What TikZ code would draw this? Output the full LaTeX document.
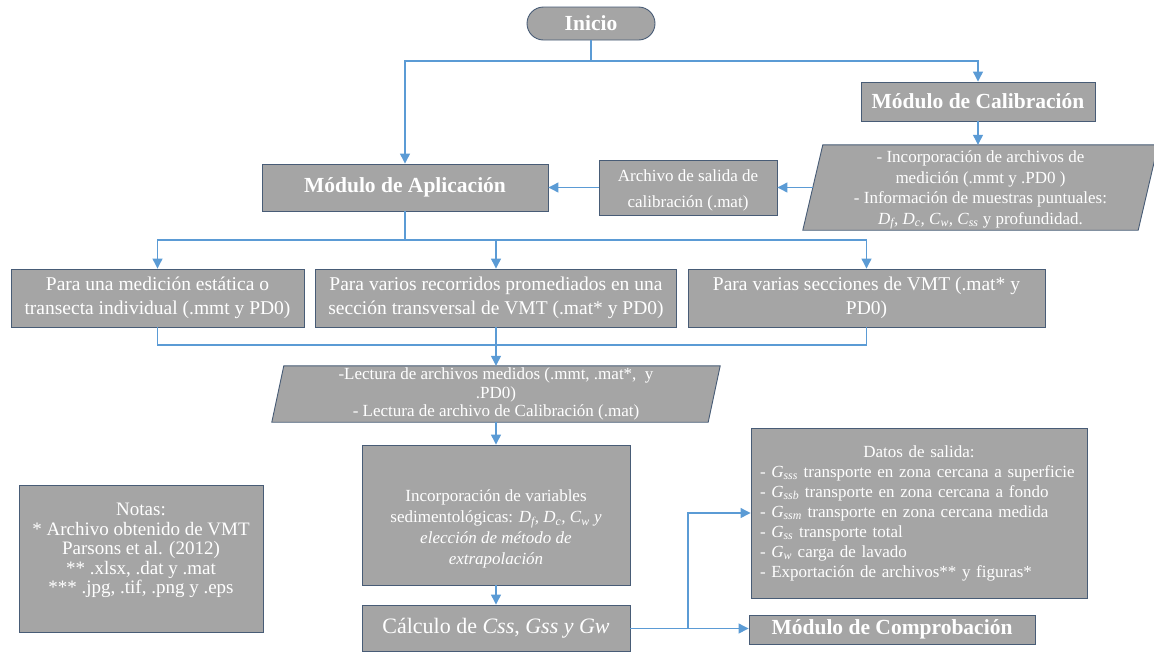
\documentclass[tikz,border=0pt]{standalone}
\usepackage{fontspec}
\setmainfont{Liberation Serif}
\usetikzlibrary{arrows.meta,calc,backgrounds}
\definecolor{boxgray}{RGB}{165,165,165}
\definecolor{edgecol}{RGB}{72,92,118}
\definecolor{flow}{RGB}{91,155,213}
\begin{document}
\begin{tikzpicture}[x=1pt,y=-1pt,
  box/.style={draw=edgecol, line width=0.9pt, fill=boxgray, text=white, align=center, inner sep=0pt},
  plain/.style={text=white, align=center, inner sep=0pt},
  partext/.style={draw=edgecol, line width=0.9pt, fill=boxgray},
  flowline/.style={draw=flow, line width=1.2pt},
  arr/.style={flowline, -{Triangle[length=10pt,width=10pt]}},
  title/.style={font=\bfseries\fontsize{21.5}{24}\selectfont},
]
\useasboundingbox (0,0) rectangle (1154,654);

% nodes
\node[box, title, rounded corners=16.5pt, minimum width=128pt, minimum height=33pt] (inicio) at (591,23.5) {Inicio};
\node[box, title, minimum width=234pt, minimum height=39pt] (cal) at (978,101.5) {Módulo de Calibración};
\node[plain, minimum width=355pt, minimum height=85pt, font=\fontsize{17}{20.5}\selectfont] (calpar) at (980.5,187.5)
  {\rule{0pt}{17pt}- Incorporación de archivos de\\ medición (.mmt y .PD0 )\\ - Información de muestras puntuales:\\
   \textit{D\textsubscript{f}, D\textsubscript{c}, C\textsubscript{w}, C\textsubscript{ss}} y profundidad.};
\node[box, minimum width=178pt, minimum height=55pt, font=\fontsize{17}{26}\selectfont] (archivo) at (688,187.5)
  {\rule{0pt}{18pt}Archivo de salida de\\ calibración (.mat)};
\node[box, title, minimum width=286pt, minimum height=47pt] (aplic) at (405,187.5) {Módulo de Aplicación};

\node[box, minimum width=293pt, minimum height=58pt, font=\fontsize{19.5}{24}\selectfont] (b1) at (157.5,298)
  {Para una medición estática o\\ transecta individual (.mmt y PD0)};
\node[box, minimum width=361pt, minimum height=58pt, font=\fontsize{19.5}{24}\selectfont] (b2) at (496,298)
  {Para varios recorridos promediados en una\\ sección transversal de VMT (.mat* y PD0)};
\node[box, minimum width=357pt, minimum height=58pt, font=\fontsize{19.5}{24}\selectfont] (b3) at (866.5,298)
  {Para varias secciones de VMT (.mat* y\\ PD0)};

\node[plain, minimum width=448pt, minimum height=56pt, font=\fontsize{17}{18.5}\selectfont] (lect) at (496,394)
  {-Lectura de archivos medidos (.mmt, .mat*,\ \ y\\ .PD0)\\ - Lectura de archivo de Calibración (.mat)};

\node[box, minimum width=268pt, minimum height=140pt, font=\fontsize{17}{21}\selectfont] (incorp) at (496,515)
  {\rule{0pt}{40pt}Incorporación de variables\\ sedimentológicas: \textit{D\textsubscript{f}, D\textsubscript{c}, C\textsubscript{w} y}\\
   \textit{elección de método de}\\ \textit{extrapolación}};
\node[box, minimum width=268pt, minimum height=46pt, font=\fontsize{22}{24}\selectfont] (calc) at (496,628)
  {Cálculo de \textit{Css}, \textit{Gss y Gw}};

\node[box, minimum width=336pt, minimum height=170pt, text width=318pt, align=left, font=\fontsize{17}{20}\selectfont] (datos) at (919,513)
  {\makebox[318pt][c]{Datos de salida:}\\
   - \textit{G\textsubscript{sss}} transporte en zona cercana a superficie\\
   - \textit{G\textsubscript{ssb}} transporte en zona cercana a fondo\\
   - \textit{G\textsubscript{ssm}} transporte en zona cercana medida\\
   - \textit{G\textsubscript{ss}} transporte total\\
   - \textit{G\textsubscript{w}}\ carga de lavado\\
   - Exportación de archivos** y figuras*};
\node[box, title, minimum width=286pt, minimum height=29pt] (compr) at (892,629.5) {Módulo de Comprobación};

\node[box, minimum width=244pt, minimum height=147pt, font=\fontsize{19}{19.5}\selectfont] (notas) at (141,558.5)
  {Notas:\\ * Archivo obtenido de VMT\\ Parsons et al. (2012)\\ ** .xlsx, .dat y .mat\\ *** .jpg, .tif, .png y .eps\rule[-20pt]{0pt}{20pt}};

% parallelogram bodies
\begin{pgfonlayer}{background}
\path[partext] ([xshift=20pt]calpar.north west) -- (calpar.north east) -- ([xshift=-20pt]calpar.south east) -- (calpar.south west) -- cycle;
\path[partext] ([xshift=12pt]lect.north west) -- (lect.north east) -- ([xshift=-12pt]lect.south east) -- (lect.south west) -- cycle;
\end{pgfonlayer}

% junctions
\coordinate (j1) at (591,61);
\coordinate (j2) at (405,240);
\coordinate (j3) at (496,345);
\coordinate (j4) at (688,628.5);

% connectors
\draw[flowline] (inicio.south) -- (j1);
\draw[arr] (j1) -| (aplic.north);
\draw[arr] (j1) -| (cal.north);
\draw[arr] (cal.south) -- (cal.south |- calpar.north);
\draw[arr] ([xshift=10pt]calpar.west) -- (archivo.east);
\draw[arr] (archivo.west) -- (aplic.east);
\draw[flowline] (aplic.south) -- (j2);
\draw[arr] (j2) -| (b1.north);
\draw[arr] (j2) -| (b2.north);
\draw[arr] (j2) -| (b3.north);
\draw[flowline] (b1.south) |- (j3);
\draw[flowline] (b3.south) |- (j3);
\draw[arr] (b2.south) -- (lect.north);
\draw[arr] (lect.south) -- (incorp.north);
\draw[arr] (incorp.south) -- (calc.north);
\draw[flowline] (calc.east |- j4) -- (j4);
\draw[arr] (j4) -- (j4 -| compr.west);
\draw[arr] (j4) |- (datos.west);
\end{tikzpicture}
\end{document}
